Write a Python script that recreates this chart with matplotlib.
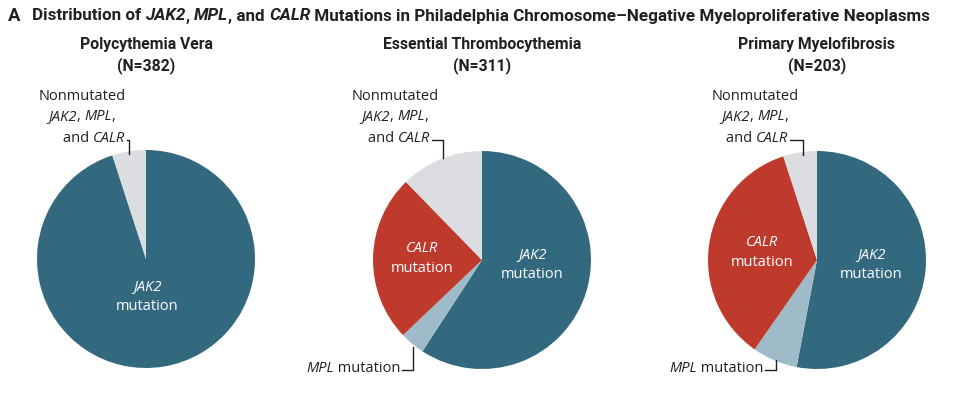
import matplotlib
matplotlib.use("Agg")
import matplotlib.pyplot as plt

W, H = 964, 394

# data (percent of patients)
panel_names = ["Polycythemia Vera", "Essential Thrombocythemia", "Primary Myelofibrosis"]
panel_counts = [382, 311, 203]
categories = ["JAK2 mutation", "MPL mutation", "CALR mutation", "Nonmutated"]
pv_share = [95.0, 0.0, 0.0, 5.0]
et_share = [59.2, 3.7, 24.8, 12.3]
pmf_share = [53.0, 6.7, 35.3, 5.0]
shares = [pv_share, et_share, pmf_share]

colors = ["#33697f", "#a0bbc8", "#be3a2c", "#dcdde0"]
TEXT = "#231f20"
LABEL_FONT = ["Open Sans", "DejaVu Sans"]
TITLE_FONT = ["Roboto", "Liberation Sans", "DejaVu Sans"]

# pie layout in pixels: centre x, centre y (from top), radius
centers = [(146, 259), (482, 260), (817, 260)]
radius = 109

fig = plt.figure(figsize=(W / 100, H / 100), dpi=100)
fig.patch.set_facecolor("white")
renderer = fig.canvas.get_renderer()


def fx(x):
    return x / W


def fy(y):
    return 1 - y / H


def seg_width(s, **kw):
    # measure with bars around so spaces are counted
    t1 = fig.text(0, 0, "|" + s + "|", **kw)
    t2 = fig.text(0, 0, "||", **kw)
    w = t1.get_window_extent(renderer).width - t2.get_window_extent(renderer).width
    t1.remove()
    t2.remove()
    return w


def make_styles(parts, size, weight, family):
    out = []
    for s, it in parts:
        kw = dict(fontsize=size, weight=weight, family=family,
                  style="italic" if it else "normal")
        out.append((s, kw, seg_width(s, **kw)))
    return out


def rich(x, y, parts, ha="center", size=10.5, color=TEXT, weight="normal", family=LABEL_FONT):
    """parts: list of (text, italic). x, y in pixels from top-left."""
    styles = make_styles(parts, size, weight, family)
    total = sum(w for _, _, w in styles)
    if ha == "center":
        x0 = x - total / 2
    elif ha == "right":
        x0 = x - total
    else:
        x0 = x
    for s, kw, w in styles:
        fig.text(fx(x0), fy(y), s, ha="left", va="center", color=color, **kw)
        x0 += w


def leader(points):
    xs = [fx(p[0]) for p in points]
    ys = [fy(p[1]) for p in points]
    fig.add_artist(plt.Line2D(xs, ys, color=TEXT, lw=1.0, transform=fig.transFigure))


# pies
for (cx, cy), vals in zip(centers, shares):
    ax = fig.add_axes([fx(cx - radius), fy(cy + radius), 2 * radius / W, 2 * radius / H])
    ax.pie(vals, colors=colors, startangle=90, counterclock=False, radius=1,
           wedgeprops=dict(linewidth=0))
    ax.set_xlim(-1, 1)
    ax.set_ylim(-1, 1)
    ax.axis("off")

# headline, sized so it spans the same width as in the reference
headline = [("Distribution of ", False), ("JAK2", True), (", ", False), ("MPL", True),
            (", and ", False), ("CALR", True),
            (" Mutations in Philadelphia Chromosome\u2013Negative Myeloproliferative Neoplasms", False)]
probe = sum(w for _, _, w in make_styles(headline, 10, "bold", TITLE_FONT))
title_size = min(13.0, 10 * 903 / probe)

rich(8, 16, [("A", False)], ha="left", size=title_size + 1, weight="bold", family=TITLE_FONT)
rich(32, 16, headline, ha="left", size=title_size, weight="bold", family=TITLE_FONT)

# panel titles
for (cx, cy), name, n in zip(centers, panel_names, panel_counts):
    rich(cx, 45, [(name, False)], size=11.3, weight="bold", family=TITLE_FONT)
    rich(cx, 66, [("(N=%d)" % n, False)], size=11.3, weight="bold", family=TITLE_FONT)

# nonmutated labels
for lx, rx, vx, vy in [(82, 125, 129, 154), (395, 430, 443, 158), (755, 788, 803, 155)]:
    rich(lx, 96, [("Nonmutated", False)])
    rich(lx, 117, [("JAK2", True), (", ", False), ("MPL", True), (",", False)])
    rich(rx, 139, [("and ", False), ("CALR", True)], ha="right")
    leader([(rx + 2, 140), (vx, 140), (vx, vy)])

# MPL labels
for rx, vx, vy in [(400, 413, 347), (763, 776, 360)]:
    rich(rx, 368, [("MPL", True), (" mutation", False)], ha="right")
    leader([(rx + 2, 370), (vx, 370), (vx, vy)])

# labels inside the wedges
for x, y in [(147, 287), (532, 255), (871, 255)]:
    rich(x, y, [("JAK2", True)], color="white")
    rich(x, y + 20, [("mutation", False)], color="white")
for x, y in [(422, 248), (762, 243)]:
    rich(x, y, [("CALR", True)], color="white")
    rich(x, y + 20, [("mutation", False)], color="white")

fig.savefig("out.png", dpi=100, facecolor="white")
